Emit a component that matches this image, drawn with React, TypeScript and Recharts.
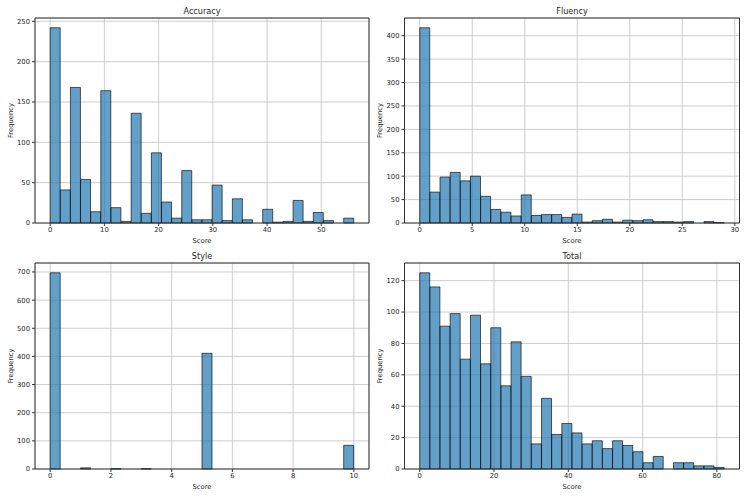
import {
  BarChart,
  Bar,
  XAxis,
  YAxis,
  CartesianGrid,
  ReferenceLine,
} from "recharts";

// 30-bin histograms, counts
const accuracyCounts = [
  242, 41, 168, 54, 14, 164, 19, 2, 136, 12, 87, 26, 6, 65, 4, 4, 47, 3, 30, 4,
  0, 17, 1, 2, 28, 2, 13, 3, 0, 6,
];
const accuracyRange = [0, 56];
const accuracyXTicks = [0, 10, 20, 30, 40, 50];
const accuracyYTicks = [0, 50, 100, 150, 200, 250];

const fluencyCounts = [
  417, 66, 98, 108, 90, 100, 57, 29, 23, 15, 60, 16, 18, 18, 12, 19, 2, 5, 8, 2,
  6, 5, 7, 3, 3, 2, 3, 0, 3, 1,
];
const fluencyRange = [0, 29];
const fluencyXTicks = [0, 5, 10, 15, 20, 25, 30];
const fluencyYTicks = [0, 50, 100, 150, 200, 250, 300, 350, 400];

const styleCounts = [
  697, 0, 0, 4, 0, 0, 1, 0, 0, 1, 0, 0, 0, 0, 0, 411, 0, 0, 0, 0, 0, 0, 0, 0, 0,
  0, 0, 0, 0, 84,
];
const styleRange = [0, 10];
const styleXTicks = [0, 2, 4, 6, 8, 10];
const styleYTicks = [0, 100, 200, 300, 400, 500, 600, 700];

const totalCounts = [
  125, 116, 91, 99, 70, 98, 67, 90, 53, 81, 59, 16, 45, 22, 29, 23, 16, 18, 13,
  18, 15, 11, 4, 8, 0, 4, 4, 2, 2, 1,
];
const totalRange = [0, 82];
const totalXTicks = [0, 20, 40, 60, 80];
const totalYTicks = [0, 20, 40, 60, 80, 100, 120];

const FONT = "'DejaVu Sans', sans-serif";
const INK = "#262626";
const SPINE = "#333333";
const GRID = "#c8c8c8";
const BAR_FILL = "#1f77b4";

function toBins(counts: number[], range: number[]) {
  const [lo, hi] = range;
  const w = (hi - lo) / counts.length;
  return counts.map((count, i) => ({ mid: lo + (i + 0.5) * w, count }));
}

interface PanelProps {
  title: string;
  counts: number[];
  range: number[];
  xTicks: number[];
  yTicks: number[];
  left: number;
  top: number;
  yAxisWidth: number;
  yLabelOffset: number;
  marginTop: number;
  marginRight: number;
  marginBottom: number;
}

function HistPanel({
  title,
  counts,
  range,
  xTicks,
  yTicks,
  left,
  top,
  yAxisWidth,
  yLabelOffset,
  marginTop,
  marginRight,
  marginBottom,
}: PanelProps) {
  const data = toBins(counts, range);
  const pad = (range[1] - range[0]) * 0.05;
  const xDomain = [range[0] - pad, range[1] + pad];
  const yDomain = [0, Math.max(...counts) * 1.05];
  const tick = { fill: INK, fontSize: 6.8, fontFamily: FONT };

  return (
    <div style={{ position: "absolute", left, top }}>
      <BarChart
        width={374}
        height={249}
        data={data}
        barCategoryGap={0}
        barGap={0}
        margin={{ top: marginTop, right: marginRight, bottom: marginBottom, left: 0 }}
      >
        <CartesianGrid stroke={GRID} strokeWidth={0.9} />
        <XAxis
          dataKey="mid"
          type="number"
          domain={xDomain}
          ticks={xTicks}
          interval={0}
          height={26}
          tick={tick}
          tickSize={3}
          tickMargin={1}
          tickLine={{ stroke: SPINE }}
          axisLine={{ stroke: SPINE }}
          label={{
            value: "Score",
            position: "insideBottom",
            offset: 6.5,
            fill: INK,
            fontSize: 6.8,
            fontFamily: FONT,
          }}
        />
        <YAxis
          type="number"
          domain={yDomain}
          ticks={yTicks}
          interval={0}
          width={yAxisWidth}
          tick={tick}
          tickSize={3}
          tickMargin={2}
          tickLine={{ stroke: SPINE }}
          axisLine={{ stroke: SPINE }}
          label={{
            value: "Frequency",
            angle: -90,
            position: "insideLeft",
            offset: yLabelOffset,
            fill: INK,
            fontSize: 6.8,
            fontFamily: FONT,
            style: { textAnchor: "middle" },
          }}
        />
        <Bar
          dataKey="count"
          fill={BAR_FILL}
          fillOpacity={0.7}
          stroke="#000000"
          strokeOpacity={0.7}
          strokeWidth={0.9}
          isAnimationActive={false}
        />
        {/* top and right spines, title sits on the top one */}
        <ReferenceLine
          y={yDomain[1]}
          stroke={SPINE}
          strokeWidth={1}
          ifOverflow="extendDomain"
          label={{
            value: title,
            position: "top",
            offset: 4,
            fill: INK,
            fontSize: 8.1,
            fontFamily: FONT,
          }}
        />
        <ReferenceLine
          x={xDomain[1]}
          stroke={SPINE}
          strokeWidth={1}
          ifOverflow="extendDomain"
        />
      </BarChart>
    </div>
  );
}

export default function App() {
  return (
    <div
      style={{
        position: "absolute",
        left: 0,
        top: 0,
        width: 747,
        height: 498,
        background: "#ffffff",
        fontFamily: FONT,
      }}
    >
      <HistPanel
        title="Accuracy"
        counts={accuracyCounts}
        range={accuracyRange}
        xTicks={accuracyXTicks}
        yTicks={accuracyYTicks}
        left={0}
        top={0}
        yAxisWidth={35}
        yLabelOffset={11}
        marginTop={18}
        marginRight={5}
        marginBottom={0}
      />
      <HistPanel
        title="Fluency"
        counts={fluencyCounts}
        range={fluencyRange}
        xTicks={fluencyXTicks}
        yTicks={fluencyYTicks}
        left={373}
        top={0}
        yAxisWidth={31.5}
        yLabelOffset={7}
        marginTop={18}
        marginRight={7.5}
        marginBottom={0}
      />
      <HistPanel
        title="Style"
        counts={styleCounts}
        range={styleRange}
        xTicks={styleXTicks}
        yTicks={styleYTicks}
        left={0}
        top={249}
        yAxisWidth={35}
        yLabelOffset={11}
        marginTop={14}
        marginRight={5}
        marginBottom={3}
      />
      <HistPanel
        title="Total"
        counts={totalCounts}
        range={totalRange}
        xTicks={totalXTicks}
        yTicks={totalYTicks}
        left={373}
        top={249}
        yAxisWidth={31.5}
        yLabelOffset={7}
        marginTop={14}
        marginRight={7.5}
        marginBottom={3}
      />
    </div>
  );
}
